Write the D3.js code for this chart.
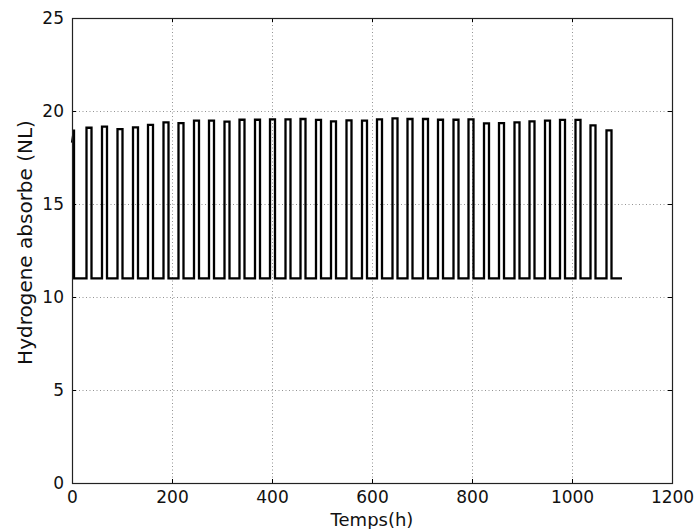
<!DOCTYPE html>
<html>
<head>
<meta charset="utf-8">
<script src="https://cdn.jsdelivr.net/npm/d3@7"></script>
<style>
  html, body { margin: 0; padding: 0; background: #fff; }
  svg { display: block; font-family: "DejaVu Sans", sans-serif; }
</style>
</head>
<body>
<div id="chart"></div>
<script>
// ---- data ----
const xTicks = [0, 200, 400, 600, 800, 1000, 1200];
const yTicks = [0, 5, 10, 15, 20, 25];
const xLabel = "Temps(h)";
const yLabel = "Hydrogene absorbe (NL)";

// initial partial cycle
const startTimes = [0, 4];
const startValues = [18.3, 19.0];

// low level between absorption phases
const lowLevel = 11;
const endTime = 1100;

// absorption pulses
const riseTimes = [29, 60, 91, 122, 152, 183, 213, 244, 274, 305, 335, 366, 396, 427, 457, 488, 518, 549,
                   580, 610, 641, 671, 702, 732, 763, 793, 824, 854, 885, 915, 946, 976, 1007, 1037, 1069];
const fallTimes = [39, 70, 101, 132, 162, 193, 223, 254, 284, 315, 345, 376, 406, 437, 467, 498, 528, 559,
                   590, 620, 651, 681, 712, 742, 773, 803, 834, 864, 895, 925, 956, 986, 1017, 1047, 1079];
const peakValues = [19.10, 19.16, 19.03, 19.12, 19.25, 19.39, 19.35, 19.48, 19.48, 19.43, 19.53, 19.53,
                    19.55, 19.55, 19.57, 19.52, 19.44, 19.50, 19.48, 19.55, 19.60, 19.57, 19.57, 19.53,
                    19.53, 19.55, 19.33, 19.35, 19.39, 19.44, 19.48, 19.52, 19.52, 19.23, 18.96];

// ---- build series points ----
const pts = [];
startTimes.forEach((t, i) => pts.push([t, startValues[i]]));
pts.push([startTimes[startTimes.length - 1], lowLevel]);
riseTimes.forEach((t, i) => {
  pts.push([t, lowLevel]);
  pts.push([t, peakValues[i]]);
  pts.push([fallTimes[i], peakValues[i]]);
  pts.push([fallTimes[i], lowLevel]);
});
pts.push([endTime, lowLevel]);

// ---- layout ----
const W = 698, H = 529;
const m = { left: 72, top: 18, right: 26, bottom: 46 };
const iw = W - m.left - m.right;   // 600
const ih = H - m.top - m.bottom;   // 465

const x = d3.scaleLinear().domain([0, 1200]).range([0, iw]);
const y = d3.scaleLinear().domain([0, 25]).range([ih, 0]);

const svg = d3.select("#chart").append("svg").attr("width", W).attr("height", H);
const g = svg.append("g").attr("transform", `translate(${m.left},${m.top})`);

// grid
const gridStyle = sel => sel.attr("stroke", "#777").attr("stroke-width", 0.8)
  .attr("stroke-dasharray", "1,2.5").attr("fill", "none");
g.append("g").selectAll("line").data(xTicks.slice(1, -1)).join("line")
  .attr("x1", d => Math.round(x(d)) + 0.5).attr("x2", d => Math.round(x(d)) + 0.5)
  .attr("y1", 0).attr("y2", ih).call(gridStyle);
g.append("g").selectAll("line").data(yTicks.slice(1, -1)).join("line")
  .attr("y1", d => Math.round(y(d)) + 0.5).attr("y2", d => Math.round(y(d)) + 0.5)
  .attr("x1", 0).attr("x2", iw).call(gridStyle);

// data line
const line = d3.line().x(d => x(d[0])).y(d => y(d[1]));
g.append("path").datum(pts).attr("d", line)
  .attr("fill", "none").attr("stroke", "#000").attr("stroke-width", 2.3)
  .attr("stroke-linejoin", "miter");

// axes (inward ticks on all sides, classic style)
const tickLen = 4;
const axB = d3.axisBottom(x).tickValues(xTicks).tickSize(-tickLen).tickPadding(8).tickFormat(d3.format("d"));
const axT = d3.axisTop(x).tickValues(xTicks).tickSize(-tickLen).tickFormat("");
const axL = d3.axisLeft(y).tickValues(yTicks).tickSize(-tickLen).tickPadding(8).tickFormat(d3.format("d"));
const axR = d3.axisRight(y).tickValues(yTicks).tickSize(-tickLen).tickFormat("");

function styleAxis(sel) {
  sel.select(".domain").remove();
  sel.selectAll(".tick line").attr("stroke", "#000").attr("stroke-width", 1);
  sel.selectAll("text").attr("font-size", 17).attr("fill", "#111")
     .attr("font-family", "'DejaVu Sans', sans-serif");
}
g.append("g").attr("transform", `translate(0,${ih})`).call(axB).call(styleAxis);
g.append("g").call(axT).call(styleAxis);
g.append("g").call(axL).call(styleAxis);
g.append("g").attr("transform", `translate(${iw},0)`).call(axR).call(styleAxis);

// frame
g.append("rect").attr("x", 0.5).attr("y", 0.5).attr("width", iw).attr("height", ih)
  .attr("fill", "none").attr("stroke", "#222").attr("stroke-width", 1.2);

// axis labels
svg.append("text").attr("x", m.left + iw / 2).attr("y", 526)
  .attr("text-anchor", "middle").attr("font-size", 18).attr("fill", "#111").text(xLabel);
svg.append("text").attr("transform", `translate(32,${m.top + ih / 2 - 8}) rotate(-90)`)
  .attr("text-anchor", "middle").attr("font-size", 20).attr("fill", "#111").text(yLabel);
</script>
</body>
</html>
